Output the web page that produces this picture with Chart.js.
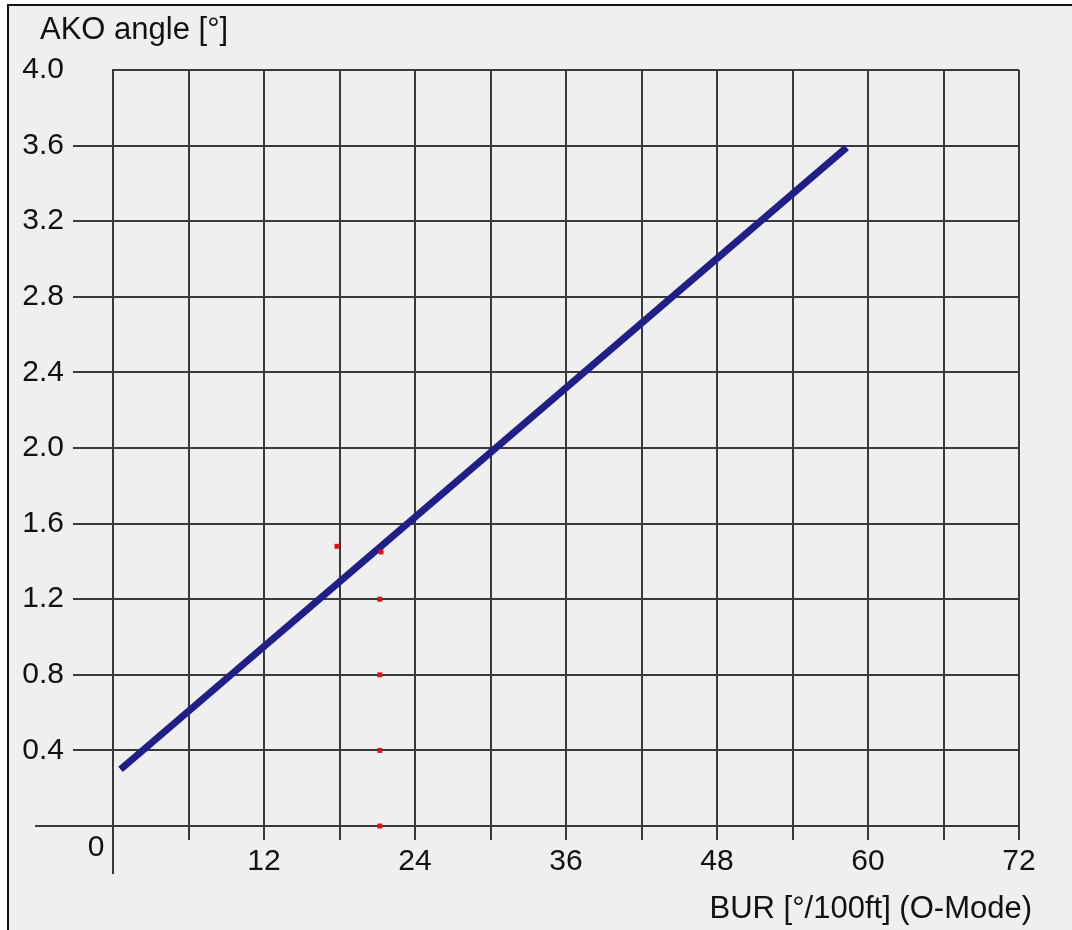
<!DOCTYPE html>
<html>
<head>
<meta charset="utf-8">
<script src="https://cdn.jsdelivr.net/npm/chart.js@4"></script>
<style>
  html, body { margin: 0; padding: 0; background: #ffffff; }
  #frame { position: absolute; left: 7px; top: 4px; width: 1070px; height: 930px;
           background: #efefef; border-left: 2px solid #111; border-top: 2px solid #111; }
  #wrap { position: absolute; left: 0; top: 0; width: 1072px; height: 930px; }
</style>
</head>
<body>
<div id="frame"></div>
<div id="wrap"><canvas id="c" width="1072" height="930"></canvas></div>
<script>
// ---- data ----
const lineX = [0.6, 58.3];
const lineY = [0.30, 3.59];
const markX = [21.3, 21.2, 21.2, 21.2, 21.2, 17.8];
const markY = [1.45, 1.20, 0.80, 0.40, 0.00, 1.48];
const xTickLabels = [12, 24, 36, 48, 60, 72];
const yTickLabels = ['0.4','0.8','1.2','1.6','2.0','2.4','2.8','3.2','3.6','4.0'];
const xTitle = 'BUR [°/100ft] (O-Mode)';
const yTitle = 'AKO angle [°]';
const originLabel = '0';

const FONT = '"Liberation Sans", Arial, sans-serif';
const GRID = '#3a3a3a';

const extras = {
  id: 'extras',
  afterDraw(chart) {
    const ctx = chart.ctx;
    const xs = chart.scales.x, ys = chart.scales.y;
    const x0 = xs.getPixelForValue(0), y0 = ys.getPixelForValue(0);
    ctx.save();
    ctx.strokeStyle = GRID;
    ctx.lineWidth = 2;
    ctx.beginPath();
    ctx.moveTo(35, y0); ctx.lineTo(x0 - 40, y0);
    ctx.moveTo(x0, y0 + 14); ctx.lineTo(x0, y0 + 48);
    ctx.stroke();
    ctx.fillStyle = '#111';
    ctx.font = '30px ' + FONT;
    ctx.textAlign = 'center';
    ctx.textBaseline = 'middle';
    ctx.fillText(originLabel, x0 - 17, y0 + 22);
    ctx.font = '31px ' + FONT;
    ctx.textAlign = 'left';
    ctx.fillText(yTitle, 40, 30);
    ctx.textAlign = 'right';
    ctx.fillText(xTitle, 1032, 909);
    ctx.restore();
  }
};

const chart = new Chart(document.getElementById('c'), {
  type: 'scatter',
  data: {
    datasets: [
      {
        label: 'line',
        data: lineX.map((x, i) => ({x, y: lineY[i]})),
        showLine: true,
        borderColor: '#1f1f88',
        borderWidth: 7,
        borderCapStyle: 'butt',
        pointRadius: 0,
        order: 1
      },
      {
        label: 'marks',
        data: markX.map((x, i) => ({x, y: markY[i]})),
        showLine: false,
        pointStyle: 'rect',
        pointRadius: 3.5,
        backgroundColor: '#e41010',
        borderWidth: 0,
        clip: false,
        order: 0
      }
    ]
  },
  options: {
    responsive: false,
    animation: false,
    devicePixelRatio: 1,
    layout: { padding: { top: 70, right: 53, bottom: 0, left: 0 } },
    plugins: { legend: { display: false }, tooltip: { enabled: false }, title: { display: false } },
    scales: {
      x: {
        type: 'linear', min: 0, max: 72,
        afterFit(s) { s.height = 104; },
        ticks: {
          stepSize: 6, autoSkip: false, maxRotation: 0,
          padding: 4, color: '#111', font: { family: FONT, size: 30 },
          callback: v => xTickLabels.includes(v) ? String(v) : ''
        },
        grid: { color: GRID, lineWidth: 2, tickLength: 14, drawTicks: true },
        border: { color: GRID, width: 2 }
      },
      y: {
        type: 'linear', min: 0, max: 4,
        afterFit(s) { s.width = 113; },
        ticks: {
          stepSize: 0.4, autoSkip: false,
          padding: 9, color: '#111', font: { family: FONT, size: 30 },
          callback: v => { const s = Number(v).toFixed(1); return yTickLabels.includes(s) ? s : ''; }
        },
        grid: {
          color: GRID, lineWidth: 2, tickLength: 40, drawTicks: true,
          tickColor: c => (c.tick && Math.abs(c.tick.value - 4) < 1e-6) ? 'rgba(0,0,0,0)' : GRID
        },
        border: { color: GRID, width: 2 }
      }
    }
  },
  plugins: [extras]
});
</script>
</body>
</html>
